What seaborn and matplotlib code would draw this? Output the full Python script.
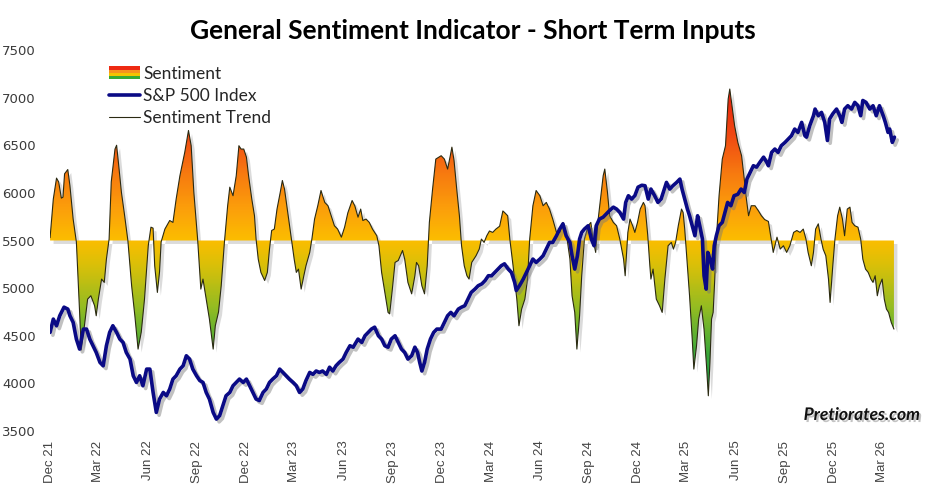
import numpy as np
import pandas as pd
import matplotlib
matplotlib.use('Agg')
import matplotlib.pyplot as plt
import matplotlib.dates as mdates
import matplotlib.patheffects as pe
from matplotlib.colors import LinearSegmentedColormap
from matplotlib.patches import Rectangle, PathPatch
from matplotlib.lines import Line2D
from matplotlib.legend_handler import HandlerBase
from matplotlib.transforms import ScaledTranslation
import seaborn as sns

# S&P 500 index
sp_dates = [
    '2021-12-01', '2021-12-07', '2021-12-13', '2021-12-19', '2021-12-27', '2022-01-03', '2022-01-07', '2022-01-13',
    '2022-01-19', '2022-01-25', '2022-02-01', '2022-02-07', '2022-02-13', '2022-02-19', '2022-02-25', '2022-03-04',
    '2022-03-10', '2022-03-16', '2022-03-22', '2022-03-28', '2022-04-04', '2022-04-10', '2022-04-16', '2022-04-22',
    '2022-04-29', '2022-05-05', '2022-05-11', '2022-05-17', '2022-05-23', '2022-05-30', '2022-06-05', '2022-06-11',
    '2022-06-17', '2022-06-23', '2022-06-30', '2022-07-06', '2022-07-12', '2022-07-18', '2022-07-24', '2022-07-31',
    '2022-08-06', '2022-08-12', '2022-08-18', '2022-08-24', '2022-08-31', '2022-09-06', '2022-09-12', '2022-09-18',
    '2022-09-24', '2022-10-01', '2022-10-07', '2022-10-13', '2022-10-19', '2022-10-25', '2022-11-01', '2022-11-07',
    '2022-11-13', '2022-11-19', '2022-11-26', '2022-12-02', '2022-12-08', '2022-12-14', '2022-12-20', '2022-12-26',
    '2023-01-02', '2023-01-08', '2023-01-14', '2023-01-20', '2023-01-27', '2023-02-02', '2023-02-08', '2023-02-14',
    '2023-02-20', '2023-02-27', '2023-03-05', '2023-03-11', '2023-03-17', '2023-03-23', '2023-03-30', '2023-04-05',
    '2023-04-11', '2023-04-17', '2023-04-23', '2023-04-30', '2023-05-06', '2023-05-12', '2023-05-18', '2023-05-24',
    '2023-05-31', '2023-06-06', '2023-06-13', '2023-06-19', '2023-06-28', '2023-07-05', '2023-07-11', '2023-07-17',
    '2023-07-23', '2023-07-29', '2023-08-05', '2023-08-11', '2023-08-17', '2023-08-23', '2023-08-29', '2023-09-05',
    '2023-09-11', '2023-09-17', '2023-09-23', '2023-09-29', '2023-10-06', '2023-10-12', '2023-10-17', '2023-10-21',
    '2023-10-25', '2023-10-30', '2023-11-04', '2023-11-10', '2023-11-16', '2023-11-22', '2023-11-30', '2023-12-06',
    '2023-12-12', '2023-12-18', '2023-12-24', '2024-01-01', '2024-01-07', '2024-01-13', '2024-01-19', '2024-01-25',
    '2024-02-01', '2024-02-07', '2024-02-14', '2024-02-20', '2024-02-26', '2024-03-03', '2024-03-09', '2024-03-15',
    '2024-03-21', '2024-03-27', '2024-04-03', '2024-04-09', '2024-04-15', '2024-04-18', '2024-04-24', '2024-05-01',
    '2024-05-07', '2024-05-13', '2024-05-19', '2024-05-25', '2024-06-01', '2024-06-07', '2024-06-13', '2024-06-19',
    '2024-06-25', '2024-07-02', '2024-07-08', '2024-07-14', '2024-07-20', '2024-07-27', '2024-07-31', '2024-08-05',
    '2024-08-10', '2024-08-14', '2024-08-18', '2024-08-23', '2024-08-30', '2024-09-05', '2024-09-10', '2024-09-14',
    '2024-09-20', '2024-09-27', '2024-10-03', '2024-10-09', '2024-10-16', '2024-10-22', '2024-10-28', '2024-11-04',
    '2024-11-08', '2024-11-13', '2024-11-19', '2024-11-25', '2024-12-01', '2024-12-08', '2024-12-14', '2024-12-20',
    '2024-12-25', '2025-01-01', '2025-01-07', '2025-01-13', '2025-01-19', '2025-01-23', '2025-01-29', '2025-02-04',
    '2025-02-11', '2025-02-17', '2025-02-21', '2025-02-26', '2025-03-03', '2025-03-07', '2025-03-12', '2025-03-17',
    '2025-03-22', '2025-03-26', '2025-03-31', '2025-04-03', '2025-04-07', '2025-04-10', '2025-04-14', '2025-04-19',
    '2025-04-22', '2025-04-26', '2025-05-01', '2025-05-07', '2025-05-12', '2025-05-17', '2025-05-23', '2025-05-29',
    '2025-06-05', '2025-06-11', '2025-06-17', '2025-06-22', '2025-06-28', '2025-07-04', '2025-07-10', '2025-07-16',
    '2025-07-23', '2025-07-29', '2025-08-01', '2025-08-07', '2025-08-13', '2025-08-19', '2025-08-25', '2025-09-01',
    '2025-09-07', '2025-09-13', '2025-09-19', '2025-09-25', '2025-10-02', '2025-10-08', '2025-10-11', '2025-10-17',
    '2025-10-24', '2025-10-27', '2025-11-02', '2025-11-08', '2025-11-14', '2025-11-19', '2025-11-23', '2025-11-29',
    '2025-12-06', '2025-12-12', '2025-12-16', '2025-12-21', '2025-12-27', '2026-01-03', '2026-01-09', '2026-01-15',
    '2026-01-20', '2026-01-24', '2026-01-30', '2026-02-06', '2026-02-12', '2026-02-18', '2026-02-24', '2026-03-03',
    '2026-03-07', '2026-03-12', '2026-03-15', '2026-03-20', '2026-03-24',
]
sp_values = [
    4535, 4675, 4605, 4710, 4800, 4780, 4710, 4640,
    4465, 4360, 4570, 4570, 4465, 4395, 4325, 4220,
    4185, 4395, 4535, 4605, 4535, 4465, 4430, 4325,
    4255, 4080, 4010, 4080, 3975, 4150, 4150, 3905,
    3695, 3835, 3905, 3870, 3940, 4045, 4080, 4150,
    4185, 4290, 4255, 4150, 4080, 4030, 4010, 3905,
    3835, 3695, 3625, 3660, 3765, 3870, 3905, 3975,
    4010, 4045, 4010, 4045, 3975, 3905, 3835, 3820,
    3905, 3940, 4010, 4045, 4080, 4150, 4115, 4080,
    4045, 4010, 3975, 3905, 3940, 4030, 4115, 4095,
    4130, 4115, 4130, 4095, 4170, 4130, 4185, 4220,
    4255, 4325, 4395, 4380, 4465, 4430, 4500, 4535,
    4570, 4590, 4500, 4465, 4395, 4380, 4465, 4500,
    4430, 4360, 4325, 4255, 4290, 4380, 4325, 4220,
    4130, 4220, 4360, 4465, 4535, 4570, 4570, 4640,
    4710, 4745, 4710, 4780, 4800, 4815, 4885, 4955,
    4990, 5025, 5045, 5080, 5130, 5130, 5165, 5200,
    5235, 5255, 5200, 5165, 5060, 4975, 5025, 5095,
    5165, 5235, 5305, 5270, 5305, 5340, 5410, 5480,
    5480, 5550, 5620, 5675, 5550, 5480, 5340, 5200,
    5340, 5515, 5585, 5620, 5655, 5515, 5445, 5655,
    5725, 5745, 5780, 5815, 5850, 5830, 5795, 5725,
    5900, 5970, 5935, 5970, 6060, 6080, 6075, 5935,
    6040, 5970, 5900, 5935, 6040, 6110, 6040, 6075,
    6110, 6145, 6040, 5935, 5830, 5760, 5655, 5550,
    5760, 5655, 5515, 5130, 4990, 5375, 5305, 5200,
    5445, 5550, 5655, 5690, 5795, 5900, 5865, 5970,
    5985, 6040, 6005, 6145, 6215, 6285, 6270, 6320,
    6375, 6320, 6285, 6425, 6460, 6425, 6495, 6530,
    6565, 6600, 6670, 6635, 6740, 6600, 6585, 6705,
    6810, 6880, 6810, 6845, 6740, 6550, 6775, 6830,
    6880, 6810, 6740, 6880, 6915, 6880, 6950, 6915,
    6810, 6970, 6950, 6880, 6915, 6810, 6915, 6810,
    6740, 6635, 6670, 6530, 6585,
]

# sentiment indicator (drawn on the index scale, neutral level 5500)
sent_dates = [
    '2021-12-01', '2021-12-07', '2021-12-13', '2021-12-17', '2021-12-22', '2021-12-25', '2021-12-28', '2022-01-03',
    '2022-01-07', '2022-01-13', '2022-01-19', '2022-01-25', '2022-01-28', '2022-02-03', '2022-02-09', '2022-02-15',
    '2022-02-22', '2022-02-25', '2022-03-01', '2022-03-07', '2022-03-12', '2022-03-16', '2022-03-21', '2022-03-25',
    '2022-04-01', '2022-04-04', '2022-04-08', '2022-04-13', '2022-04-19', '2022-04-25', '2022-05-02', '2022-05-08',
    '2022-05-14', '2022-05-20', '2022-05-26', '2022-06-02', '2022-06-07', '2022-06-11', '2022-06-14', '2022-06-19',
    '2022-06-23', '2022-06-26', '2022-07-03', '2022-07-12', '2022-07-18', '2022-07-24', '2022-07-31', '2022-08-09',
    '2022-08-16', '2022-08-21', '2022-08-26', '2022-09-02', '2022-09-08', '2022-09-12', '2022-09-18', '2022-09-24',
    '2022-10-01', '2022-10-05', '2022-10-11', '2022-10-16', '2022-10-22', '2022-10-28', '2022-11-01', '2022-11-07',
    '2022-11-13', '2022-11-18', '2022-11-22', '2022-11-27', '2022-12-02', '2022-12-06', '2022-12-12', '2022-12-17',
    '2022-12-20', '2022-12-24', '2022-12-29', '2023-01-05', '2023-01-10', '2023-01-14', '2023-01-18', '2023-01-23',
    '2023-01-28', '2023-02-03', '2023-02-07', '2023-02-11', '2023-02-17', '2023-02-24', '2023-03-01', '2023-03-05',
    '2023-03-09', '2023-03-14', '2023-03-19', '2023-03-23', '2023-03-30', '2023-04-03', '2023-04-08', '2023-04-14',
    '2023-04-20', '2023-04-27', '2023-05-03', '2023-05-09', '2023-05-15', '2023-05-21', '2023-05-28', '2023-06-03',
    '2023-06-09', '2023-06-17', '2023-06-22', '2023-06-28', '2023-07-03', '2023-07-07', '2023-07-13', '2023-07-19',
    '2023-07-25', '2023-08-02', '2023-08-06', '2023-08-11', '2023-08-17', '2023-08-23', '2023-08-26', '2023-08-31',
    '2023-09-05', '2023-09-11', '2023-09-19', '2023-09-23', '2023-09-29', '2023-10-06', '2023-10-12', '2023-10-15',
    '2023-10-19', '2023-10-25', '2023-10-30', '2023-11-04', '2023-11-08', '2023-11-14', '2023-11-20', '2023-11-30',
    '2023-12-06', '2023-12-12', '2023-12-17', '2023-12-20', '2023-12-24', '2023-12-29', '2024-01-03', '2024-01-07',
    '2024-01-12', '2024-01-17', '2024-01-21', '2024-01-26', '2024-02-03', '2024-02-09', '2024-02-13', '2024-02-18',
    '2024-02-23', '2024-02-28', '2024-03-05', '2024-03-11', '2024-03-18', '2024-03-24', '2024-03-27', '2024-04-02',
    '2024-04-06', '2024-04-12', '2024-04-19', '2024-04-23', '2024-04-28', '2024-05-04', '2024-05-09', '2024-05-13',
    '2024-05-19', '2024-05-25', '2024-06-01', '2024-06-07', '2024-06-13', '2024-06-19', '2024-06-25', '2024-07-02',
    '2024-07-08', '2024-07-14', '2024-07-20', '2024-07-27', '2024-07-31', '2024-08-05', '2024-08-09', '2024-08-14',
    '2024-08-18', '2024-08-23', '2024-08-30', '2024-09-04', '2024-09-08', '2024-09-13', '2024-09-17', '2024-09-22',
    '2024-09-27', '2024-09-30', '2024-10-05', '2024-10-09', '2024-10-16', '2024-10-22', '2024-10-28', '2024-11-04',
    '2024-11-07', '2024-11-12', '2024-11-16', '2024-11-21', '2024-11-25', '2024-11-30', '2024-12-05', '2024-12-11',
    '2024-12-14', '2024-12-19', '2024-12-23', '2024-12-25', '2024-12-29', '2025-01-04', '2025-01-10', '2025-01-15',
    '2025-01-20', '2025-01-26', '2025-02-01', '2025-02-05', '2025-02-09', '2025-02-14', '2025-02-20', '2025-02-23',
    '2025-02-26', '2025-03-03', '2025-03-07', '2025-03-12', '2025-03-15', '2025-03-20', '2025-03-24', '2025-03-29',
    '2025-04-03', '2025-04-08', '2025-04-11', '2025-04-14', '2025-04-17', '2025-04-20', '2025-04-23', '2025-04-26',
    '2025-05-01', '2025-05-07', '2025-05-13', '2025-05-18', '2025-05-21', '2025-05-25', '2025-05-30', '2025-06-05',
    '2025-06-12', '2025-06-17', '2025-06-21', '2025-06-25', '2025-06-30', '2025-07-07', '2025-07-13', '2025-07-19',
    '2025-07-25', '2025-08-01', '2025-08-06', '2025-08-10', '2025-08-17', '2025-08-23', '2025-08-29', '2025-09-04',
    '2025-09-10', '2025-09-17', '2025-09-23', '2025-09-29', '2025-10-05', '2025-10-10', '2025-10-14', '2025-10-20',
    '2025-10-24', '2025-10-28', '2025-11-02', '2025-11-07', '2025-11-11', '2025-11-16', '2025-11-21', '2025-11-24',
    '2025-11-29', '2025-12-03', '2025-12-08', '2025-12-12', '2025-12-17', '2025-12-21', '2025-12-26', '2025-12-31',
    '2026-01-04', '2026-01-09', '2026-01-15', '2026-01-20', '2026-01-24', '2026-01-29', '2026-02-03', '2026-02-08',
    '2026-02-12', '2026-02-16', '2026-02-20', '2026-02-24', '2026-03-01', '2026-03-05', '2026-03-09', '2026-03-13',
    '2026-03-18', '2026-03-23',
]
sent_values = [
    5530, 5935, 6155, 6115, 5945, 5955, 6200, 6245,
    6075, 5725, 5485, 4750, 4350, 4605, 4885, 4920,
    4815, 4710, 4885, 5095, 5060, 5305, 5515, 6115,
    6460, 6500, 6285, 6005, 5760, 5500, 5025, 4710,
    4360, 4540, 4885, 5445, 5640, 5630, 5235, 4955,
    5170, 5485, 5620, 5710, 5690, 5935, 6180, 6425,
    6655, 6495, 6005, 5515, 4990, 5095, 4885, 4675,
    4360, 4605, 4750, 5025, 5485, 5865, 6060, 5970,
    6180, 6495, 6460, 6460, 6375, 6180, 5935, 5760,
    5515, 5305, 5165, 5080, 5165, 5410, 5605, 5620,
    5830, 6005, 6130, 6040, 5795, 5515, 5305, 5165,
    5200, 4990, 5130, 5235, 5375, 5515, 5725, 5865,
    6025, 5900, 5865, 5760, 5655, 5620, 5535, 5640,
    5790, 5920, 5865, 5745, 5830, 5710, 5725, 5690,
    5620, 5550, 5445, 5165, 4955, 4745, 4730, 4990,
    5270, 5290, 5395, 5305, 5060, 4940, 5130, 5270,
    5235, 5025, 4940, 5235, 5690, 6040, 6355, 6390,
    6355, 6250, 6390, 6480, 6340, 6040, 5760, 5445,
    5235, 5130, 5095, 5270, 5340, 5410, 5515, 5480,
    5550, 5600, 5585, 5620, 5650, 5810, 5795, 5760,
    5515, 5235, 4885, 4605, 4780, 4885, 5095, 5515,
    5865, 6025, 5970, 5865, 5900, 5830, 5725, 5585,
    5585, 5690, 5585, 5305, 4920, 4745, 4360, 4710,
    5130, 5515, 5655, 5690, 5515, 5375, 5690, 5935,
    6180, 6250, 6005, 5760, 5690, 5655, 5515, 5305,
    5130, 5585, 5725, 5655, 5585, 5690, 5830, 5900,
    5865, 5560, 5235, 5095, 5200, 4885, 4815, 4745,
    5095, 5445, 5480, 5410, 5480, 5655, 5830, 5795,
    5620, 5235, 4920, 4465, 4150, 4395, 4675, 4815,
    4570, 4150, 3870, 4220, 4675, 4745, 5095, 5515,
    5970, 6355, 6495, 6985, 7090, 6915, 6705, 6530,
    6390, 6145, 5935, 5760, 5865, 5865, 5815, 5760,
    5720, 5700, 5520, 5375, 5535, 5410, 5445, 5375,
    5445, 5585, 5605, 5585, 5620, 5515, 5375, 5235,
    5375, 5620, 5675, 5515, 5410, 5340, 5095, 4850,
    5235, 5515, 5760, 5850, 5725, 5550, 5830, 5850,
    5690, 5655, 5640, 5515, 5305, 5200, 5165, 5095,
    5060, 5130, 4920, 5025, 5095, 4885, 4780, 4745,
    4640, 4570,
]
neutral_level = 5500

sp = pd.DataFrame({'date': pd.to_datetime(sp_dates), 'value': sp_values})
sent = pd.DataFrame({'date': pd.to_datetime(sent_dates), 'value': sent_values})

sns.set_style('white')
plt.rcParams['font.family'] = ['DejaVu Sans']

fig = plt.figure(figsize=(9.45, 4.94), dpi=100)
ax = fig.add_axes([0.053, 0.1275, 0.910, 0.7713])

# gradient colours for the sentiment area (by level)
lo, hi = 3500, 7500
stops = [(3800, '#0f9b4f'), (4300, '#3aa83a'), (4800, '#95bc22'), (5250, '#dcc008'),
         (5500, '#fbbd00'), (5800, '#fca20a'), (6200, '#f77a10'), (6600, '#f04a12'), (7100, '#e81c0c')]
cmap = LinearSegmentedColormap.from_list(
    'sent', [(0.0, '#0f9b4f')] + [((v - lo) / (hi - lo), c) for v, c in stops] + [(1.0, '#e81c0c')])

area = ax.fill_between(sent['date'], sent['value'], neutral_level, interpolate=True,
                       facecolor='none', edgecolor='none', zorder=1)
area_path = area.get_paths()[0]

shadow_tr = ax.transData + ScaledTranslation(2.5 / 72, -2.5 / 72, fig.dpi_scale_trans)
ax.add_patch(PathPatch(area_path, transform=shadow_tr, facecolor='#9a9a9a',
                       edgecolor='none', alpha=0.35, zorder=1))

x0 = mdates.date2num(pd.Timestamp('2021-11-01'))
x1 = mdates.date2num(pd.Timestamp('2026-05-01'))
grad = np.linspace(lo, hi, 500).reshape(-1, 1)
im = ax.imshow(grad, extent=[x0, x1, lo, hi], origin='lower', aspect='auto',
               cmap=cmap, vmin=lo, vmax=hi, zorder=2)
im.set_clip_path(area_path, ax.transData)

sns.lineplot(data=sent, x='date', y='value', ax=ax, color='#2b2a12', linewidth=0.8,
             zorder=3, estimator=None)
sns.lineplot(data=sp, x='date', y='value', ax=ax, color='#0a0a85', linewidth=2.6,
             zorder=4, estimator=None,
             path_effects=[pe.SimpleLineShadow(offset=(2, -2), shadow_color='#777777', alpha=0.45),
                           pe.Normal()])

ax.set_xlim(pd.Timestamp('2021-12-01'), pd.Timestamp('2026-04-22'))
ax.set_ylim(lo, hi)
ax.set_yticks(range(3500, 7501, 500))
ax.set_xticks(pd.date_range('2021-12-01', '2026-03-01', freq='3MS'))
ax.xaxis.set_major_formatter(mdates.DateFormatter('%b %y'))
ax.set_xlabel('')
ax.set_ylabel('')
for s in ax.spines.values():
    s.set_visible(False)
ax.tick_params(axis='y', length=0, pad=10.5, labelsize=9.5, labelcolor='#3a3a3a')
ax.tick_params(axis='x', length=0, pad=7, labelsize=9.5, labelcolor='#444444', rotation=90)
for lab in ax.get_xticklabels():
    lab.set_fontfamily(['Liberation Sans', 'DejaVu Sans'])
ax.grid(False)


class GradientHandler(HandlerBase):
    def create_artists(self, legend, orig_handle, xdescent, ydescent, width, height, fontsize, trans):
        cols = ['#ee2a12', '#f7941d', '#f5c400', '#3aaa35']
        h = height / len(cols)
        return [Rectangle((-xdescent, -ydescent + height - (i + 1) * h), width, h,
                          facecolor=c, edgecolor='none', transform=trans)
                for i, c in enumerate(cols)]


sent_handle = Rectangle((0, 0), 1, 1)
handles = [sent_handle,
           Line2D([], [], color='#0a0a85', linewidth=2.6),
           Line2D([], [], color='#2b2a12', linewidth=0.8)]
ax.legend(handles, ['Sentiment', 'S&P 500 Index', 'Sentiment Trend'],
          handler_map={sent_handle: GradientHandler()},
          loc='upper left', bbox_to_anchor=(0.05, 1.0), frameon=False,
          handlelength=1.8, handletextpad=0.2, labelspacing=0.35,
          prop={'family': ['Lato', 'DejaVu Sans'], 'size': 12.5})

fig.text(0.5, 0.937, 'General Sentiment Indicator - Short Term Inputs', ha='center', va='center',
         fontsize=19, fontweight='bold', family=['Lato', 'DejaVu Sans'], color='black')
fig.text(0.912, 0.16, 'Pretiorates.com', ha='center', va='center', fontsize=12.5,
         fontweight='bold', fontstyle='italic', family=['Lato', 'DejaVu Sans'], color='#111111',
         path_effects=[pe.withSimplePatchShadow(offset=(1.5, -1.5), shadow_rgbFace='#888888', alpha=0.5)])

fig.savefig('out.png', dpi=100)
